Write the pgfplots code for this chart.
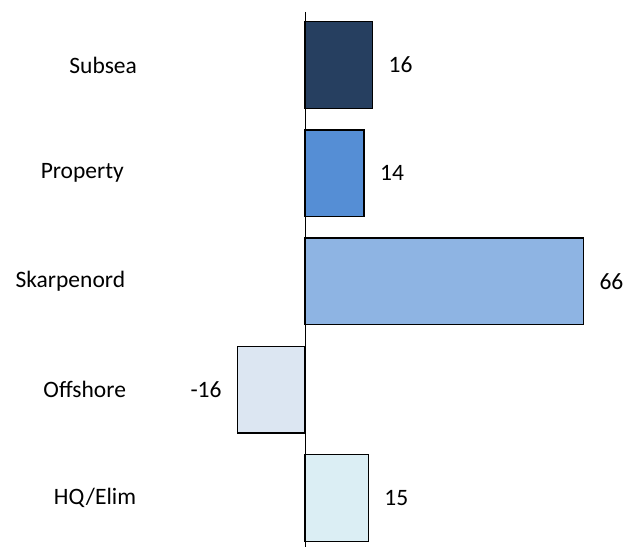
\documentclass[border=0pt]{standalone}
\usepackage{pgfplots}
\pgfplotsset{compat=1.18}
\usepackage{fontspec}
\setmainfont{Carlito}

\definecolor{cSubsea}{HTML}{263F60}
\definecolor{cProperty}{HTML}{558ED5}
\definecolor{cSkarp}{HTML}{8EB4E3}
\definecolor{cOffshore}{HTML}{DCE6F2}
\definecolor{cHQ}{HTML}{DBEEF4}

\begin{document}
\begin{tikzpicture}
\begin{axis}[
  scale only axis,
  width=627pt, height=547pt,
  xmin=-72.3, xmax=76.3,
  ymin=-0.600, ymax=4.453,
  y dir=reverse,
  axis lines=none,
  clip=false,
  xbar, bar width=0.8, bar shift=0pt,
  font=\fontsize{23.5}{28}\selectfont,
  every axis plot/.append style={draw=black, line width=1.4pt},
  nodes near coords={\pgfmathprintnumber[assume math mode=true]{\pgfplotspointmeta}},
  nodes near coords style={font=\fontsize{23.5}{28}\selectfont, text=black},
]
\addplot[fill=cSubsea, nodes near coords style={anchor=west, xshift=12pt}] coordinates {(16,0)};
\addplot[fill=cProperty, nodes near coords style={anchor=west, xshift=12pt}] coordinates {(14,1)};
\addplot[fill=cSkarp, nodes near coords style={anchor=west, xshift=12pt}] coordinates {(66,2)};
\addplot[fill=cOffshore, nodes near coords style={anchor=east, xshift=-12pt}] coordinates {(-16,3)};
\addplot[fill=cHQ, nodes near coords style={anchor=west, xshift=12pt}] coordinates {(15,4)};

% vertical zero line
\draw[black, line width=1pt] (axis cs:0,-0.49) -- (axis cs:0,4.453);

% category labels
\node[anchor=east, inner sep=0pt] at (axis cs:-39.8,0) {Subsea};
\node[anchor=east, inner sep=0pt] at (axis cs:-42.9,1) {Property};
\node[anchor=east, inner sep=0pt] at (axis cs:-42.6,2) {Skarpenord};
\node[anchor=east, inner sep=0pt] at (axis cs:-42.4,3) {Offshore};
\node[anchor=east, inner sep=0pt] at (axis cs:-40.0,4) {HQ/Elim};

\coordinate (SW) at (axis cs:-72.3,4.453);
\coordinate (NE) at (axis cs:76.3,-0.600);
\end{axis}
\pgfresetboundingbox
\useasboundingbox (SW) rectangle (NE);
\end{tikzpicture}
\end{document}
